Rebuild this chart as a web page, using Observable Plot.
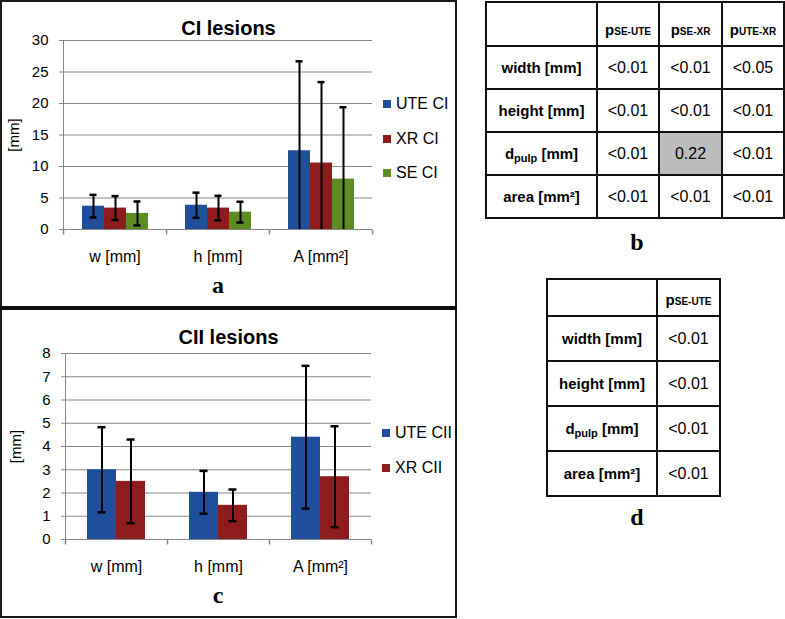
<!DOCTYPE html>
<html><head><meta charset="utf-8">
<script src="https://cdn.jsdelivr.net/npm/d3@7"></script>
<script src="https://cdn.jsdelivr.net/npm/@observablehq/plot@0.6"></script>
<style>
body{margin:0;background:#fff;font-family:Arial,"Liberation Sans",sans-serif;color:#000;}
#page{position:relative;width:785px;height:619px;overflow:hidden;background:#fff;}
.abs{position:absolute;}
.title{font-weight:bold;font-size:20px;text-align:center;width:457px;left:0;line-height:24px;}
.plabel{font-family:"Times New Roman","Liberation Serif",serif;font-weight:bold;font-size:24px;line-height:28px;width:40px;text-align:center;}
.leg{font-size:16px;line-height:20px;white-space:nowrap;}
.leg span.sw{display:inline-block;width:8px;height:8px;margin-right:5px;vertical-align:1px;}
table.pt{position:absolute;border-collapse:collapse;table-layout:fixed;}
table.pt td{border:2px solid #111;text-align:center;padding:0;font-size:16px;}
table.pt td.rl{font-weight:bold;font-size:15px;}
table.pt td.hd{font-weight:bold;font-size:15px;vertical-align:bottom;padding-bottom:7px;}
table.pt sub{font-size:10px;vertical-align:baseline;position:relative;top:0px;}
table.pt td.rl sub{font-size:11px;position:relative;top:3px;}
</style></head><body><div id="page"></div>
<script>
// ---- data ----
const categories = ["w [mm]", "h [mm]", "A [mm²]"];
const seriesCI = ["UTE CI", "XR CI", "SE CI"];
const meanCI_UTE = [3.7, 3.85, 12.5];
const sdCI_UTE = [1.8, 2.0, 14.2];
const meanCI_XR = [3.4, 3.4, 10.55];
const sdCI_XR = [1.9, 1.95, 12.85];
const meanCI_SE = [2.55, 2.75, 8.0];
const sdCI_SE = [1.9, 1.65, 11.4];
const yTicksCI = [0, 5, 10, 15, 20, 25, 30];

const seriesCII = ["UTE CII", "XR CII"];
const meanCII_UTE = [3.0, 2.03, 4.4];
const sdCII_UTE = [1.83, 0.92, 3.07];
const meanCII_XR = [2.5, 1.47, 2.7];
const sdCII_XR = [1.8, 0.68, 2.17];
const yTicksCII = [0, 1, 2, 3, 4, 5, 6, 7, 8];

const seriesColors = ["#1f4e9c", "#8e1c1c", "#5e8b22"];

const tableRowLabels = ["width [mm]", "height [mm]", "d<sub>pulp</sub> [mm]", "area [mm²]"];
const tableBHeaders = ["SE-UTE", "SE-XR", "UTE-XR"];
const tableBValues = [
  ["<0.01", "<0.01", "<0.05"],
  ["<0.01", "<0.01", "<0.01"],
  ["<0.01", "0.22", "<0.01"],
  ["<0.01", "<0.01", "<0.01"]
];
const tableBHighlight = [[2, 1]];
const tableDHeaders = ["SE-UTE"];
const tableDValues = [["<0.01"], ["<0.01"], ["<0.01"], ["<0.01"]];

// ---- helpers ----
const page = document.getElementById("page");
function add(html, style, cls) {
  const d = document.createElement("div");
  d.className = "abs " + (cls || "");
  d.innerHTML = html;
  Object.assign(d.style, style);
  page.appendChild(d);
  return d;
}

const tickSym = {draw(ctx) { ctx.moveTo(0, 0); ctx.lineTo(0, 5); }};

function barChart({series, means, sds, yTicks, margins, capInset}) {
  const rows = [];
  categories.forEach((c, i) => series.forEach((s, j) =>
    rows.push({cat: c, series: s, value: means[j][i], err: sds[j][i]})));
  const lo = d => Math.max(0, d.value - d.err);
  return Plot.plot({
    width: 457, height: 308, ...margins,
    style: {fontFamily: "Arial, 'Liberation Sans', sans-serif", color: "#000", background: "transparent", overflow: "visible"},
    fx: {domain: categories, padding: 0, label: null},
    x: {domain: series, paddingInner: 0, paddingOuter: 0.75, axis: null},
    y: {domain: [yTicks[0], yTicks[yTicks.length - 1]]},
    color: {domain: series, range: seriesColors},
    marks: [
      Plot.gridY(yTicks, {stroke: "#868686", strokeOpacity: 1}),
      Plot.frame({anchor: "left", stroke: "#868686", facetAnchor: "left"}),
      Plot.dot(categories, {fx: d => d, frameAnchor: "bottom-left", symbol: tickSym, stroke: "#868686", fill: "none"}),
      Plot.dot([categories[categories.length - 1]], {fx: d => d, frameAnchor: "bottom-right", symbol: tickSym, stroke: "#868686", fill: "none"}),
      Plot.axisY({ticks: yTicks, tickSize: 4, tickPadding: 11, fontSize: 15, stroke: "#868686",
        label: "[mm]", labelAnchor: "center", labelOffset: 55, labelArrow: "none"}),
      Plot.axisFx({anchor: "bottom", tickSize: 0, tickPadding: 21, fontSize: 16, label: null}),
      Plot.barY(rows, {fx: "cat", x: "series", y: "value", fill: "series"}),
      Plot.ruleX(rows, {fx: "cat", x: "series", y1: lo, y2: d => d.value + d.err, stroke: "#000", strokeWidth: 2}),
      Plot.tickY(rows, {fx: "cat", x: "series", y: d => d.value + d.err, stroke: "#000", strokeWidth: 2.5, insetLeft: capInset, insetRight: capInset}),
      Plot.tickY(rows.filter(d => d.value - d.err > 0), {fx: "cat", x: "series", y: lo, stroke: "#000", strokeWidth: 2.5, insetLeft: capInset, insetRight: capInset})
    ]
  });
}

// ---- chart a ----
const chartA = barChart({
  series: seriesCI,
  means: [meanCI_UTE, meanCI_XR, meanCI_SE],
  sds: [sdCI_UTE, sdCI_XR, sdCI_SE],
  yTicks: yTicksCI,
  margins: {marginTop: 40, marginBottom: 79, marginLeft: 63, marginRight: 85},
  capInset: 7.5
});
const wrapA = add("", {left: "0px", top: "0px"});
wrapA.appendChild(chartA);

// ---- chart c ----
const chartC = barChart({
  series: seriesCII,
  means: [meanCII_UTE, meanCII_XR],
  sds: [sdCII_UTE, sdCII_XR],
  yTicks: yTicksCII,
  margins: {marginTop: 43, marginBottom: 79, marginLeft: 65, marginRight: 86},
  capInset: 10.5
});
const wrapC = add("", {left: "0px", top: "310px"});
wrapC.appendChild(chartC);

// titles
add("CI lesions", {top: "16px"}, "title");
add("CII lesions", {top: "325px"}, "title");

// legends
function legend(series, x, ys) {
  series.forEach((s, i) => add(`<span class="sw" style="background:${seriesColors[i]}"></span>${s}`,
    {left: x + "px", top: (ys[i] - 10) + "px"}, "leg"));
}
legend(seriesCI, 383, [104, 139, 173]);
legend(seriesCII, 382, [433, 468]);

// panel labels
add("a", {left: "198px", top: "271px"}, "plabel");
add("c", {left: "198px", top: "581px"}, "plabel");
add("b", {left: "617px", top: "228px"}, "plabel");
add("d", {left: "617px", top: "503px"}, "plabel");

// frame
add("", {left: "0px", top: "0px", width: "457px", height: "618px", border: "2px solid #1a1a1a", boxSizing: "border-box"});
add("", {left: "0px", top: "306px", width: "457px", height: "4px", background: "#111"});

// tables
function pTable(headers, values, highlight, left, top, widths, headH, rowH) {
  const t = document.createElement("table");
  t.className = "pt";
  t.style.left = left + "px"; t.style.top = top + "px";
  let h = "<colgroup>" + widths.map(w => `<col style="width:${w}px">`).join("") + "</colgroup>";
  h += `<tr style="height:${headH}px"><td></td>` + headers.map(s => `<td class="hd">p<sub>${s}</sub></td>`).join("") + "</tr>";
  values.forEach((r, i) => {
    h += `<tr style="height:${rowH}px"><td class="rl">${tableRowLabels[i]}</td>` +
      r.map((v, j) => {
        const hl = highlight.some(([a, b]) => a === i && b === j);
        return `<td${hl ? ' style="background:#bdbdbd"' : ""}>${v.replace("<", "&lt;")}</td>`;
      }).join("") + "</tr>";
  });
  t.innerHTML = h;
  page.appendChild(t);
}
pTable(tableBHeaders, tableBValues, tableBHighlight, 485, 1, [111, 62, 63, 62], 44, 43);
pTable(tableDHeaders, tableDValues, [], 546, 278, [110, 63], 37, 45);
</script></body></html>
